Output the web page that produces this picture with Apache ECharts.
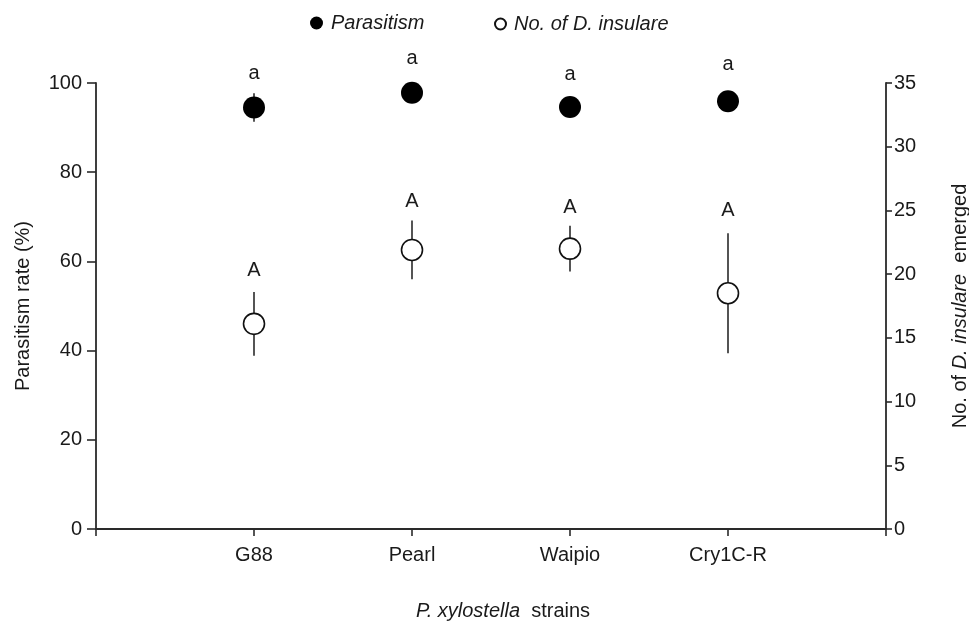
<!DOCTYPE html>
<html>
<head>
<meta charset="utf-8">
<script src="https://cdn.jsdelivr.net/npm/echarts@6/dist/echarts.min.js"></script>
<style>
  html, body { margin: 0; padding: 0; background: #fff; }
  #chart { width: 969px; height: 628px; }
</style>
</head>
<body>
<div id="chart"></div>
<script>
// strains on the x axis (plotted at 1..4 of a 0..5 axis)
const categories = ['G88', 'Pearl', 'Waipio', 'Cry1C-R'];

// parasitism rate (%), mean and SE
const parasitism = [94.5, 97.8, 94.6, 95.9];
const parasitismErr = [3.2, 1.5, 1.0, 1.2];

// number of D. insulare emerged, mean and SE
const insulare = [16.1, 21.9, 22.0, 18.5];
const insulareErr = [2.5, 2.3, 1.8, 4.7];

// significance letters and the heights they sit at (axis units)
const parasitismLetters = ['a', 'a', 'a', 'a'];
const parasitismLetterY = [102.1, 105.5, 101.9, 104.1];
const insulareLetters = ['A', 'A', 'A', 'A'];
const insulareLetterY = [20.3, 25.7, 25.2, 25.0];

const leftTicks = [0, 20, 40, 60, 80, 100];
const rightTicks = [0, 5, 10, 15, 20, 25, 30, 35];

const FONT = '"Liberation Sans", Arial, sans-serif';
const INK = '#1a1a1a';
const LINE = '#2a2a2a';

const chart = echarts.init(document.getElementById('chart'), null, { renderer: 'canvas' });

const xs = categories.map((c, i) => i + 1);

function errorBar(params, api) {
  const x = api.value(0);
  const y = api.value(1);
  const e = api.value(2);
  const top = api.coord([x, y + e]);
  const bot = api.coord([x, y - e]);
  return {
    type: 'line',
    shape: { x1: top[0], y1: top[1], x2: bot[0], y2: bot[1] },
    style: { stroke: LINE, lineWidth: 1.6 }
  };
}

const axisLine = { show: true, onZero: false, lineStyle: { color: LINE, width: 1.8 } };

chart.setOption({
  animation: false,
  textStyle: { fontFamily: FONT },
  grid: { left: 96, right: 83, top: 83, bottom: 99, containLabel: false, outerBoundsMode: 'none' },
  legend: [
    {
      data: ['Parasitism'],
      left: 305, top: 8,
      itemWidth: 13, itemHeight: 13,
      icon: 'circle',
      textStyle: { fontFamily: FONT, fontSize: 20, fontStyle: 'italic', color: INK, padding: [0, 0, 0, 3] }
    },
    {
      data: ['No. of D. insulare'],
      left: 489, top: 9,
      itemWidth: 11, itemHeight: 11,
      icon: 'circle',
      textStyle: { fontFamily: FONT, fontSize: 20, fontStyle: 'italic', color: INK, padding: [0, 0, 0, 3] }
    }
  ],
  xAxis: {
    type: 'value',
    min: 0, max: 5, interval: 1,
    axisLine: axisLine,
    axisTick: { show: true, length: 7, lineStyle: { color: LINE, width: 1.6 } },
    splitLine: { show: false },
    axisLabel: {
      margin: 16,
      fontSize: 20,
      color: INK,
      fontFamily: FONT,
      showMinLabel: true, showMaxLabel: true,
      formatter: v => categories[v - 1] || ''
    },
    name: '{i|P. xylostella}{n|  strains}',
    nameLocation: 'middle',
    nameGap: 72,
    nameTextStyle: {
      padding: [0, 0, 0, 24],
      rich: {
        i: { fontSize: 20, fontStyle: 'italic', color: INK, fontFamily: FONT },
        n: { fontSize: 20, color: INK, fontFamily: FONT }
      }
    }
  },
  yAxis: [
    {
      type: 'value',
      position: 'left',
      min: leftTicks[0], max: leftTicks[leftTicks.length - 1], interval: 20,
      axisLine: axisLine,
      axisTick: { show: true, length: 9, lineStyle: { color: LINE, width: 1.6 } },
      splitLine: { show: false },
      axisLabel: { margin: 14, fontSize: 20, color: INK, fontFamily: FONT },
      name: 'Parasitism rate (%)',
      nameLocation: 'middle',
      nameRotate: 90,
      nameGap: 63,
      nameTextStyle: { fontSize: 20, color: INK, fontFamily: FONT }
    },
    {
      type: 'value',
      position: 'right',
      min: rightTicks[0], max: rightTicks[rightTicks.length - 1], interval: 5,
      axisLine: axisLine,
      axisTick: { show: true, length: 6, lineStyle: { color: LINE, width: 1.6 } },
      splitLine: { show: false },
      axisLabel: { margin: 8, fontSize: 20, color: INK, fontFamily: FONT },
      name: '{n|No. of }{i|D. insulare}{n|  emerged}',
      nameLocation: 'middle',
      nameRotate: 90,
      nameGap: 64,
      nameTextStyle: {
        rich: {
          i: { fontSize: 20, fontStyle: 'italic', color: INK, fontFamily: FONT },
          n: { fontSize: 20, color: INK, fontFamily: FONT }
        }
      }
    }
  ],
  series: [
    {
      name: 'parasitism-err',
      type: 'custom',
      yAxisIndex: 0,
      renderItem: errorBar,
      encode: { x: 0, y: 1 },
      data: xs.map((x, i) => [x, parasitism[i], parasitismErr[i]]),
      z: 2
    },
    {
      name: 'insulare-err',
      type: 'custom',
      yAxisIndex: 1,
      renderItem: errorBar,
      encode: { x: 0, y: 1 },
      data: xs.map((x, i) => [x, insulare[i], insulareErr[i]]),
      z: 2
    },
    {
      name: 'Parasitism',
      type: 'scatter',
      yAxisIndex: 0,
      symbol: 'circle',
      symbolSize: 22,
      itemStyle: { color: '#000', opacity: 1 },
      data: xs.map((x, i) => [x, parasitism[i]]),
      z: 3
    },
    {
      name: 'No. of D. insulare',
      type: 'scatter',
      yAxisIndex: 1,
      symbol: 'circle',
      symbolSize: 21,
      itemStyle: { color: '#fff', borderColor: '#111', borderWidth: 1.6, opacity: 1 },
      data: xs.map((x, i) => [x, insulare[i]]),
      z: 3
    },
    {
      name: 'parasitism-letters',
      type: 'scatter',
      yAxisIndex: 0,
      symbolSize: 0,
      clip: false,
      silent: true,
      itemStyle: { opacity: 1 },
      label: {
        show: true, position: 'inside',
        fontSize: 20, color: INK, fontFamily: FONT,
        formatter: p => parasitismLetters[p.dataIndex]
      },
      data: xs.map((x, i) => [x, parasitismLetterY[i]]),
      z: 4
    },
    {
      name: 'insulare-letters',
      type: 'scatter',
      yAxisIndex: 1,
      symbolSize: 0,
      clip: false,
      silent: true,
      itemStyle: { opacity: 1 },
      label: {
        show: true, position: 'inside',
        fontSize: 20, color: INK, fontFamily: FONT,
        formatter: p => insulareLetters[p.dataIndex]
      },
      data: xs.map((x, i) => [x, insulareLetterY[i]]),
      z: 4
    }
  ]
});
</script>
</body>
</html>
